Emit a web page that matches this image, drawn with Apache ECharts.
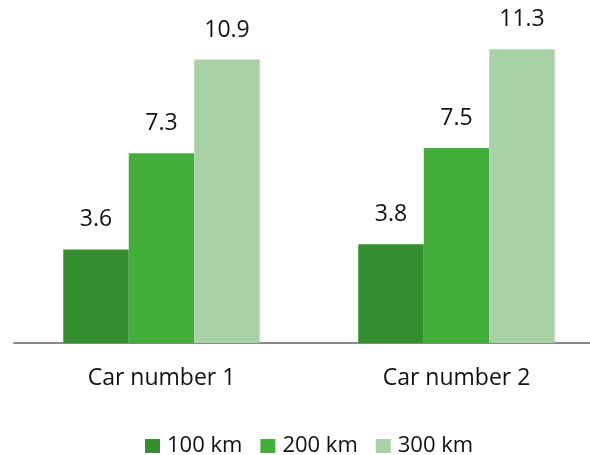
<!DOCTYPE html>
<html>
<head>
<meta charset="utf-8">
<style>html,body{margin:0;padding:0;background:#fff;}#chart{width:590px;height:455px;}</style>
<script src="https://cdn.jsdelivr.net/npm/echarts@6/dist/echarts.min.js"></script>
</head>
<body>
<div id="chart"></div>
<script>
const categories = ['Car number 1', 'Car number 2'];
const seriesNames = ['100 km', '200 km', '300 km'];
const values100 = [3.6, 3.8];
const values200 = [7.3, 7.5];
const values300 = [10.9, 11.3];
const colors = ['#348F2F', '#44AE3C', '#A9D1A8'];

const chart = echarts.init(document.getElementById('chart'), null, {renderer: 'canvas'});
const font = '"Open Sans", "Liberation Sans", sans-serif';
const mk = (name, data, color) => ({
  name: name,
  type: 'bar',
  data: data,
  barWidth: 65.5,
  barGap: '0%',
  itemStyle: {color: color},
  label: {
    show: true,
    position: 'top',
    distance: 18,
    color: '#111',
    fontFamily: font,
    fontSize: 23,
    formatter: p => p.value.toFixed(1)
  }
});
chart.setOption({
  animation: false,
  color: colors,
  grid: {left: 14, right: -14, top: 31, bottom: 112, containLabel: false, outerBoundsMode: 'none'},
  legend: {
    data: seriesNames,
    left: 145,
    top: 435,
    padding: 0,
    icon: 'rect',
    itemWidth: 15,
    itemHeight: 14,
    itemGap: 18,
    textStyle: {color: '#111', fontFamily: font, fontSize: 22, lineHeight: 22, padding: [0, 0, 0, 2]}
  },
  xAxis: {
    type: 'category',
    data: categories,
    axisLine: {lineStyle: {color: '#898989', width: 2}},
    axisTick: {show: false},
    axisLabel: {color: '#111', fontFamily: font, fontSize: 23, margin: 24}
  },
  yAxis: {
    type: 'value',
    min: 0,
    max: 12,
    show: false,
    splitLine: {show: false}
  },
  series: [
    mk(seriesNames[0], values100, colors[0]),
    mk(seriesNames[1], values200, colors[1]),
    mk(seriesNames[2], values300, colors[2])
  ]
});
</script>
</body>
</html>
